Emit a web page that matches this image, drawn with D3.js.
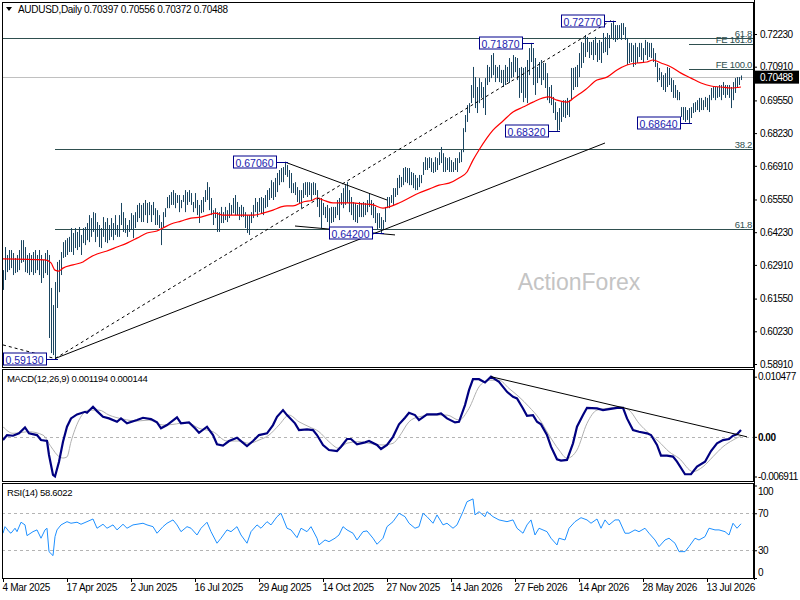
<!DOCTYPE html>
<html>
<head>
<meta charset="utf-8">
<script src="https://cdn.jsdelivr.net/npm/d3@7"></script>
<style>
  body { margin: 0; background: #fff; }
  svg text { font-family: "Liberation Sans", Arial, sans-serif; }
</style>
</head>
<body>
<div id="chart"></div>
<script>
// daily bars, oldest first (4 Mar 2025 .. early Aug 2026)
const highs = [
  .6270,.6363,.6331,.6351,.6351,.6339,.6319,.6331,.6351,.6391,.6391,.6363,.6331,.6339,.6331,.6343,.6351,.6331,.6351,.6331,
  .6311,.6339,.6351,.6331,.6198,.6129,.6222,.6303,.6311,.6343,.6383,.6391,.6399,.6404,.6440,.6420,.6440,.6424,.6444,.6412,
  .6440,.6444,.6460,.6492,.6480,.6504,.6500,.6464,.6452,.6440,.6484,.6464,.6480,.6452,.6480,.6460,.6492,.6452,.6492,.6541,
  .6504,.6480,.6452,.6472,.6500,.6492,.6504,.6533,.6541,.6533,.6541,.6553,.6541,.6545,.6533,.6545,.6520,.6512,.6492,.6464,
  .6504,.6520,.6565,.6573,.6585,.6593,.6581,.6573,.6573,.6553,.6573,.6593,.6585,.6593,.6581,.6545,.6581,.6553,.6533,.6553,
  .6565,.6593,.6625,.6605,.6561,.6512,.6520,.6504,.6504,.6525,.6504,.6525,.6512,.6541,.6533,.6561,.6573,.6545,.6525,.6533,
  .6525,.6504,.6492,.6492,.6504,.6533,.6561,.6545,.6561,.6565,.6561,.6573,.6593,.6601,.6633,.6625,.6642,.6662,.6674,.6682,
  .6686,.6706,.6694,.6674,.6662,.6621,.6625,.6605,.6593,.6593,.6621,.6625,.6625,.6625,.6621,.6625,.6621,.6593,.6561,.6561,
  .6541,.6525,.6533,.6520,.6525,.6525,.6525,.6553,.6561,.6581,.6601,.6613,.6625,.6593,.6565,.6545,.6541,.6533,.6545,.6541,
  .6545,.6541,.6553,.6581,.6553,.6541,.6525,.6500,.6500,.6484,.6472,.6525,.6565,.6565,.6573,.6601,.6601,.6642,.6654,.6646,
  .6682,.6686,.6682,.6682,.6666,.6662,.6654,.6642,.6654,.6654,.6706,.6726,.6722,.6726,.6722,.6706,.6726,.6722,.6746,.6767,
  .6742,.6726,.6722,.6726,.6714,.6706,.6722,.6722,.6746,.6755,.6843,.6896,.6936,.6944,.7017,.7090,.7049,.7009,.7045,.7029,
  .7009,.7045,.7098,.7090,.7138,.7146,.7098,.7090,.7098,.7078,.7078,.7098,.7090,.7126,.7110,.7138,.7130,.7126,.7086,.7090,
  .7086,.7090,.7118,.7166,.7187,.7166,.7126,.7090,.7110,.7118,.7106,.7106,.7065,.7009,.7017,.6969,.6948,.6908,.6924,.6948,
  .6956,.6956,.6965,.6956,.7086,.7086,.7090,.7098,.7146,.7191,.7187,.7219,.7211,.7191,.7191,.7199,.7211,.7187,.7199,.7191,
  .7227,.7211,.7227,.7219,.7267,.7277,.7259,.7259,.7259,.7267,.7267,.7251,.7207,.7187,.7187,.7178,.7187,.7170,.7187,.7187,
  .7166,.7199,.7191,.7187,.7187,.7166,.7146,.7106,.7086,.7069,.7057,.7065,.7090,.7086,.7045,.7037,.7017,.6997,.6989,.6928,
  .6928,.6928,.6916,.6924,.6928,.6944,.6948,.6956,.6965,.6965,.6956,.6969,.6965,.6977,.7005,.7009,.7009,.7009,.7017,.7017,
  .7029,.7017,.7017,.7017,.7009,.7029,.7045,.7049,.7049,.70556
];
const lows = [
  .6190,.6230,.6262,.6270,.6278,.6250,.6258,.6262,.6270,.6299,.6303,.6262,.6258,.6250,.6262,.6250,.6258,.6270,.6250,.6218,
  .6238,.6258,.6250,.5996,.5935,.5927,.5913,.6117,.6181,.6250,.6319,.6323,.6331,.6343,.6343,.6331,.6359,.6351,.6363,.6331,
  .6379,.6371,.6391,.6383,.6404,.6424,.6383,.6404,.6363,.6359,.6404,.6383,.6379,.6391,.6404,.6391,.6412,.6404,.6404,.6452,
  .6424,.6420,.6404,.6424,.6432,.6399,.6440,.6464,.6480,.6464,.6464,.6492,.6460,.6492,.6464,.6492,.6452,.6452,.6440,.6371,
  .6440,.6484,.6520,.6520,.6533,.6533,.6520,.6541,.6504,.6520,.6545,.6504,.6533,.6545,.6533,.6504,.6520,.6492,.6460,.6500,
  .6504,.6545,.6553,.6512,.6492,.6452,.6480,.6424,.6424,.6460,.6460,.6472,.6464,.6480,.6492,.6500,.6492,.6492,.6472,.6484,
  .6484,.6440,.6420,.6412,.6460,.6480,.6504,.6484,.6504,.6500,.6492,.6520,.6525,.6553,.6561,.6553,.6565,.6585,.6613,.6625,
  .6625,.6654,.6646,.6601,.6581,.6581,.6573,.6545,.6541,.6520,.6561,.6573,.6565,.6573,.6553,.6573,.6573,.6525,.6484,.6440,
  .6492,.6480,.6464,.6440,.6460,.6464,.6480,.6492,.6472,.6533,.6520,.6533,.6541,.6504,.6492,.6472,.6464,.6460,.6484,.6484,
  .6484,.6492,.6504,.6525,.6492,.6480,.6460,.6432,.6440,.6420,.6432,.6464,.6520,.6520,.6541,.6533,.6565,.6573,.6601,.6605,
  .6613,.6625,.6621,.6613,.6613,.6601,.6593,.6593,.6605,.6621,.6654,.6674,.6674,.6682,.6666,.6662,.6666,.6674,.6694,.6702,
  .6666,.6666,.6674,.6666,.6666,.6666,.6674,.6666,.6702,.6706,.6746,.6827,.6868,.6904,.6944,.6965,.6924,.6904,.6944,.6965,
  .6924,.6896,.7017,.7029,.7045,.7057,.7029,.7045,.7029,.7025,.7009,.7017,.7029,.7025,.7045,.7049,.7069,.7037,.6965,.6985,
  .6948,.6965,.6944,.7057,.7110,.7017,.6977,.7025,.7045,.7017,.7037,.7005,.6956,.6944,.6936,.6904,.6876,.6832,.6835,.6868,
  .6888,.6884,.6896,.6888,.6956,.6997,.7009,.7009,.7049,.7086,.7106,.7130,.7150,.7126,.7138,.7118,.7138,.7110,.7118,.7106,
  .7146,.7150,.7138,.7166,.7207,.7199,.7191,.7199,.7207,.7199,.7219,.7199,.7098,.7106,.7110,.7090,.7098,.7106,.7130,.7118,
  .7106,.7138,.7118,.7130,.7126,.7110,.7090,.7029,.7037,.7009,.6997,.6989,.7009,.7017,.6989,.6965,.6965,.6956,.6956,.6888,
  .6876,.6868,.6876,.6864,.6884,.6904,.6908,.6916,.6908,.6916,.6916,.6928,.6916,.6908,.6956,.6965,.6956,.6965,.6969,.6956,
  .6977,.6965,.6977,.6965,.6924,.6956,.6985,.7009,.7017,.70372
];

// red moving average, read at these bar indices
const maIdx = [0,21,24,26,28,30,35,40,43,47,52,57,62,67,72,77,80,84,89,94,99,104,106,110,115,120,125,130,135,139,142,145,150,155,157,160,165,170,175,180,185,190,193,198,203,208,213,218,223,228,232,235,238,242,245,250,255,260,265,270,273,277,282,286,291,297,302,307,312,317,322,325,329,334,339,344,349,354,359,364,369];
const maVal = [.6315,.6311,.6299,.6270,.6266,.6278,.6291,.6303,.6319,.6335,.6347,.6363,.6379,.6399,.6420,.6428,.6440,.6456,.6468,.6480,.6484,.6496,.6500,.6492,.6492,.6492,.6492,.6500,.6512,.6525,.6529,.6529,.6545,.6553,.6561,.6553,.6541,.6541,.6541,.6537,.6533,.6520,.6525,.6541,.6561,.6581,.6597,.6613,.6621,.6642,.6666,.6714,.6755,.6804,.6835,.6872,.6908,.6928,.6948,.6965,.6969,.6956,.6948,.6969,.6997,.7037,.7049,.7078,.7098,.7106,.7110,.7118,.7106,.7090,.7065,.7045,.7025,.7013,.7009,.7005,.7009];

// MACD(12,26,9) main line
const macdIdx = [0,2,5,8,11,13,17,19,22,23,25,26,28,30,32,34,37,41,42,45,47,50,53,57,59,62,67,70,74,77,79,82,87,89,93,96,98,102,105,107,110,113,117,119,122,125,128,132,135,137,140,142,146,148,152,155,157,160,163,167,169,172,174,177,181,183,187,189,192,195,198,201,203,206,208,212,217,219,222,226,228,231,233,235,238,241,244,248,252,255,257,260,262,265,267,269,272,274,277,279,282,285,287,290,292,297,300,303,307,310,312,315,318,322,324,327,329,332,335,337,341,344,347,351,354,357,360,363,365,367,369];
const macdVal = [-.00056,.00031,.00019,.00061,.00165,.00061,.00031,-.00056,-.00073,-.00316,-.00664,-.00691,-.00433,-.00085,.00176,.00321,.00391,.00436,.00419,.00523,.00448,.00349,.00321,.00262,.00321,.00235,.00292,.00332,.00309,.00252,.00148,.00205,.00339,.00235,.00252,.00148,.00071,.00176,.00031,-.00130,-.00154,-.00073,-.00016,-.00073,-.00160,-.00073,.00031,.00061,.00205,.00349,.00466,.00379,.00235,.00118,.00130,.00118,.00031,-.00142,-.00229,-.00247,-.00172,-.00038,-.00038,-.00130,-.00096,-.00073,-.00142,-.00212,-.00142,0,.00217,.00332,.00419,.00379,.00292,.00391,.00391,.00408,.00321,.00252,.00262,.00553,.00813,.01004,.01004,.00947,.01048,.00957,.00784,.00697,.00669,.00495,.00367,.00379,.00262,.00217,.00031,-.00172,-.00391,-.00415,-.00403,-.00113,.00176,.00379,.00506,.00495,.00466,.00483,.00506,.00506,.00321,.00118,.00089,.00061,.00031,-.00142,-.00328,-.00328,-.00345,-.00433,-.00652,-.00652,-.00519,-.00433,-.00247,-.00113,-.00056,-.00038,.00019,.00043,.001194];

// MACD signal line
const sigIdx = [0,5,13,20,24,28,30,32,34,38,43,48,53,60,67,73,80,85,92,98,105,112,118,123,128,133,138,143,148,153,158,163,168,172,178,183,190,195,198,203,208,215,222,228,233,238,243,248,253,258,263,268,273,278,282,287,292,297,302,308,313,318,323,328,333,338,345,350,355,360,365,369];
const sigVal = [.00176,.00061,.00089,.0003,-.00172,-.00345,-.0037,-.0035,-.00085,.00292,.00466,.00466,.00379,.00309,.00275,.00292,.00205,.00217,.00252,.00148,.00089,-.00073,-.00073,-.00113,-.00056,.00031,.00205,.00379,.00262,.00176,.00089,-.00085,-.0020,-.0011,-.00085,-.00113,-.00142,-.00113,0,.00262,.00349,.00379,.00379,.00292,.00495,.0087,.00987,.00987,.00843,.00697,.00523,.00321,.00031,-.00229,-.00374,-.00229,.00235,.00466,.00495,.00523,.00466,.00235,.00061,-.00085,-.00259,-.00374,-.00606,-.0052,-.00345,-.00172,-.00056,.000144];

// RSI(14)
const rsiIdx = [0,1,2,3,4,6,7,9,11,12,15,17,19,21,22,23,25,26,27,29,32,34,37,39,42,45,47,50,52,55,57,60,62,65,67,70,72,75,77,80,82,85,87,89,92,94,97,99,102,104,107,109,112,114,117,119,122,124,127,129,132,134,137,139,142,144,147,149,152,154,157,158,161,163,166,168,170,172,175,177,180,182,185,187,190,192,195,198,201,203,206,208,210,212,215,217,220,222,225,227,230,232,235,236,238,241,242,245,248,252,255,257,260,262,264,266,268,272,274,277,278,281,283,286,289,292,294,297,299,301,303,306,308,311,313,316,318,321,323,326,328,331,333,336,338,341,343,346,348,351,353,356,358,361,363,365,367,369];
const rsiVal = [48.4,55.5,53,50.1,48.4,53.8,50.1,60.3,57.4,45.8,50.1,52,43,52,53.8,28.5,24.2,44.7,52,57.4,60.9,59.2,60.3,58.1,60.9,63.8,53.8,58.1,53.8,57.4,52,58.1,53.8,57.4,58.1,59.2,57.4,55.5,48.4,55.5,59.2,62.8,57.4,50.1,55.5,53.8,46.5,53.8,60.3,50.1,37.6,43,52,50.1,55.5,46.5,37.6,50.1,57.4,53.8,60.9,57.4,66.3,70,53.8,52,43.6,53.8,50.1,55.5,43,35.7,41.1,39.3,43,46.5,55.5,52,48.4,41.1,50.1,50.9,43,36.5,43,55.5,60.9,70,66.3,59.2,53.8,55.5,70,66.3,59.2,68.2,57.4,59.2,53.8,57.4,71.7,82.5,85.5,68.2,71.7,66.3,71.7,66.3,62.8,60.9,62.8,53.8,48.4,57.4,62.8,46.5,53.8,50.1,43,35.7,43,41.1,53.8,60.9,65.2,62.8,59.2,63.8,53.8,62.8,57.4,62.8,62.8,48.4,48.4,52,50.1,53.8,48.4,41.1,33.9,41.1,43,37.6,28.5,28.5,33.9,43,41.1,44.7,53.8,52,52,50.1,46.5,59.2,53.8,58.6];

const dateLabels = ["4 Mar 2025","17 Apr 2025","2 Jun 2025","16 Jul 2025","29 Aug 2025","14 Oct 2025","27 Nov 2025","14 Jan 2026","27 Feb 2026","14 Apr 2026","28 May 2026","13 Jul 2026"];
const priceTicks = [0.72230,0.70910,0.69550,0.68230,0.66910,0.65550,0.64230,0.62910,0.61550,0.60230,0.58910];
const macdTicks = [0.010477, 0, -0.006911];
const macdTickText = ["0.010477", "0.00", "-0.006911"];
const rsiTicks = [100, 70, 30, 0];

// retracement / expansion levels
const levelPrice = [0.7207, 0.6759, 0.6436, 0.7182, 0.7082];
const levelText = ["61.8", "38.2", "61.8", "FE 161.8", "FE 100.0"];
const levelFrom = [0, 26, 26, 343, 343];

// swing labels
const swingText = ["0.59130","0.67060","0.64200","0.71870","0.72770","0.68320","0.68640"];
const swingIdx = [26, 141, 189, 264, 305, 277, 343];
const swingPrice = [0.5913, 0.6706, 0.6420, 0.7187, 0.7277, 0.6832, 0.6864];

// trend lines as [bar index, price]
const trendSolid = [[26, 0.5913], [301, 0.6783]];
const trendDashed = [[0, 0.5968], [26, 0.5913], [304, 0.7277]];
const triUpper = [[141, 0.6706], [192, 0.6553]];
const triLower = [[146, 0.6448], [196, 0.6412]];
const macdTrend = [[244, 0.01048], [372, 0]];

const lastPrice = 0.70488;
const title = "AUDUSD,Daily  0.70397 0.70556 0.70372 0.70488";

var width = 800, height = 600;
var svg = d3.select("#chart").append("svg")
    .attr("width", width).attr("height", height);

var x = d3.scaleLinear().domain([0, 369]).range([3, 741]);
var yP = d3.scaleLinear().domain([0.58910, 0.72230]).range([364, 34]);
var yM = d3.scaleLinear().domain([-0.006911, 0.010477]).range([476.5, 376.7]);
var yR = d3.scaleLinear().domain([0, 100]).range([578, 485.5]);

var defs = svg.append("defs");
function clip(id, y0, y1) {
  defs.append("clipPath").attr("id", id).append("rect")
      .attr("x", 3).attr("y", y0).attr("width", 751).attr("height", y1 - y0);
}
clip("cMain", 3, 367);
clip("cMacd", 370, 481);
clip("cRsi", 484, 578);

// ---- main panel ----
var main = svg.append("g").attr("clip-path", "url(#cMain)");

main.append("line")
    .attr("x1", 2).attr("x2", 754)
    .attr("y1", Math.round(yP(lastPrice)) + 0.5).attr("y2", Math.round(yP(lastPrice)) + 0.5)
    .attr("stroke", "#c0c0c0");

levelPrice.forEach(function(p, k) {
  var yy = Math.round(yP(p)) + 0.5;
  main.append("line")
      .attr("x1", levelFrom[k] === 0 ? 2 : x(levelFrom[k])).attr("x2", 754)
      .attr("y1", yy).attr("y2", yy)
      .attr("stroke", "#2f4f4f");
  svg.append("text")
      .attr("x", 752).attr("y", yy - 2)
      .attr("text-anchor", "end")
      .attr("font-size", "9.5px").attr("letter-spacing", "-0.3px").attr("fill", "#2f4f4f")
      .text(levelText[k]);
});

main.selectAll(".bar").data(highs).enter().append("line")
    .attr("class", "bar")
    .attr("x1", function(d, i) { return Math.round(x(i)) + 0.5; })
    .attr("x2", function(d, i) { return Math.round(x(i)) + 0.5; })
    .attr("y1", function(d) { return yP(d); })
    .attr("y2", function(d, i) { return Math.max(yP(lows[i]), yP(d) + 2); })
    .attr("stroke", "#1a4560").attr("stroke-width", 1);

var lineP = d3.line().x(function(d) { return x(d[0]); }).y(function(d) { return yP(d[1]); });

main.append("path")
    .attr("d", lineP.curve(d3.curveMonotoneX)(maIdx.map(function(v, k) { return [v, maVal[k]]; })))
    .attr("fill", "none").attr("stroke", "#ff0000").attr("stroke-width", 1.2);
lineP.curve(d3.curveLinear);

[trendSolid, triUpper, triLower].forEach(function(t) {
  main.append("path").attr("d", lineP(t))
      .attr("fill", "none").attr("stroke", "#000").attr("stroke-width", 1);
});
main.append("path").attr("d", lineP(trendDashed))
    .attr("fill", "none").attr("stroke", "#000").attr("stroke-width", 1)
    .attr("stroke-dasharray", "3,3");

main.append("text")
    .attr("x", 579).attr("y", 290)
    .attr("text-anchor", "middle")
    .attr("font-size", "23px").attr("fill", "#c4c4c4")
    .text("ActionForex");

// swing boxes
swingText.forEach(function(t, k) {
  var px = x(swingIdx[k]), py = Math.round(yP(swingPrice[k])) + 0.5;
  var right = Math.round(px) - 9;
  main.append("line")
      .attr("x1", right).attr("x2", Math.round(px) + 3)
      .attr("y1", py).attr("y2", py)
      .attr("stroke", "#00008b");
  main.append("rect")
      .attr("x", right - 43 + 0.5).attr("y", py - 6.5)
      .attr("width", 43).attr("height", 12)
      .attr("fill", "#fff").attr("stroke", "#00008b");
  main.append("text")
      .attr("x", right - 21.5).attr("y", py + 4)
      .attr("text-anchor", "middle")
      .attr("font-size", "10.5px").attr("fill", "#1c1cb0")
      .text(t);
});

// ---- MACD panel ----
var macd = svg.append("g").attr("clip-path", "url(#cMacd)");
macd.append("line")
    .attr("x1", 2).attr("x2", 754)
    .attr("y1", Math.round(yM(0)) + 0.5).attr("y2", Math.round(yM(0)) + 0.5)
    .attr("stroke", "#b4b4b4").attr("stroke-dasharray", "3,3");

var lineM = d3.line().x(function(d) { return x(d[0]); }).y(function(d) { return yM(d[1]); });
macd.append("path")
    .attr("d", lineM.curve(d3.curveMonotoneX)(sigIdx.map(function(v, k) { return [v, sigVal[k]]; })))
    .attr("fill", "none").attr("stroke", "#b0b0b0").attr("stroke-width", 1);
macd.append("path")
    .attr("d", lineM.curve(d3.curveLinear)(macdIdx.map(function(v, k) { return [v, macdVal[k]]; })))
    .attr("fill", "none").attr("stroke", "#000080").attr("stroke-width", 2.2);
macd.append("path").attr("d", lineM(macdTrend))
    .attr("fill", "none").attr("stroke", "#000").attr("stroke-width", 1);

// ---- RSI panel ----
var rsi = svg.append("g").attr("clip-path", "url(#cRsi)");
[70, 30].forEach(function(v) {
  rsi.append("line")
      .attr("x1", 2).attr("x2", 754)
      .attr("y1", Math.round(yR(v)) + 0.5).attr("y2", Math.round(yR(v)) + 0.5)
      .attr("stroke", "#b4b4b4").attr("stroke-dasharray", "3,3");
});
rsi.append("path")
    .attr("d", d3.line().x(function(d) { return x(d[0]); }).y(function(d) { return yR(d[1]); })
      (rsiIdx.map(function(v, k) { return [v, rsiVal[k]]; })))
    .attr("fill", "none").attr("stroke", "#1e90ff").attr("stroke-width", 1);

// ---- frames ----
[[2.5, 365], [369.5, 112], [483.5, 95]].forEach(function(r) {
  svg.append("rect")
      .attr("x", 2.5).attr("y", r[0]).attr("width", 751).attr("height", r[1])
      .attr("fill", "none").attr("stroke", "#000");
});

// ---- axes ----
var priceAxis = svg.append("g")
    .attr("class", "axis")
    .attr("transform", "translate(754,0)")
    .call(d3.axisRight(yP).tickValues(priceTicks).tickSize(3).tickPadding(3).tickFormat(d3.format(".5f")));

var macdAxis = svg.append("g")
    .attr("class", "axis")
    .attr("transform", "translate(754,0)")
    .call(d3.axisRight(yM).tickValues(macdTicks).tickSize(3).tickPadding(1)
      .tickFormat(function(d, i) { return macdTickText[i]; }));
macdAxis.selectAll(".tick text").filter(function(d) { return d === 0; }).attr("font-weight", "bold");

var rsiAxis = svg.append("g")
    .attr("class", "axis")
    .attr("transform", "translate(754,0)")
    .call(d3.axisRight(yR).tickValues(rsiTicks).tickSize(3).tickPadding(1));
rsiAxis.selectAll(".tick text").attr("dy", function(d) {
  return d === 100 ? "0.85em" : d === 0 ? "-0.25em" : "0.32em";
});

var dateAxis = svg.append("g")
    .attr("class", "axis date")
    .attr("transform", "translate(0,579)")
    .call(d3.axisBottom(x).tickValues(dateLabels.map(function(d, i) { return i * 32; }))
      .tickSize(3).tickPadding(2)
      .tickFormat(function(d) { return dateLabels[d / 32]; }));

svg.selectAll(".axis .domain").remove();
svg.selectAll(".axis text").attr("font-size", "10px").attr("letter-spacing", "-0.5px").attr("fill", "#000")
    .attr("font-family", "Liberation Sans, Arial, sans-serif");
dateAxis.selectAll(".tick text").attr("text-anchor", "start").attr("dx", -1).attr("letter-spacing", "-0.3px");
svg.selectAll(".axis line").attr("stroke", "#000");

svg.append("line")
    .attr("x1", 754.5).attr("x2", 754.5).attr("y1", 0).attr("y2", 580)
    .attr("stroke", "#000");

// last price tag
var ty = yP(lastPrice);
svg.append("rect")
    .attr("x", 755).attr("y", ty - 6.5).attr("width", 44).attr("height", 13)
    .attr("fill", "#000");
svg.append("text")
    .attr("x", 760).attr("y", ty + 3.5)
    .attr("font-size", "10px").attr("letter-spacing", "-0.5px").attr("fill", "#fff")
    .text(lastPrice.toFixed(5));

// ---- titles ----
svg.append("path").attr("d", "M6,7 L12,7 L9,11 Z").attr("fill", "#000");
svg.append("text").attr("x", 18).attr("y", 13).attr("font-size", "10px").attr("letter-spacing", "-0.3px")
    .attr("fill", "#000").text(title);
svg.append("text").attr("x", 7).attr("y", 382).attr("font-size", "9.5px").attr("letter-spacing", "-0.3px")
    .attr("fill", "#000").text("MACD(12,26,9) 0.001194 0.000144");
svg.append("text").attr("x", 7).attr("y", 496).attr("font-size", "9.5px").attr("letter-spacing", "-0.3px")
    .attr("fill", "#000").text("RSI(14) 58.6022");
</script>
</body>
</html>
